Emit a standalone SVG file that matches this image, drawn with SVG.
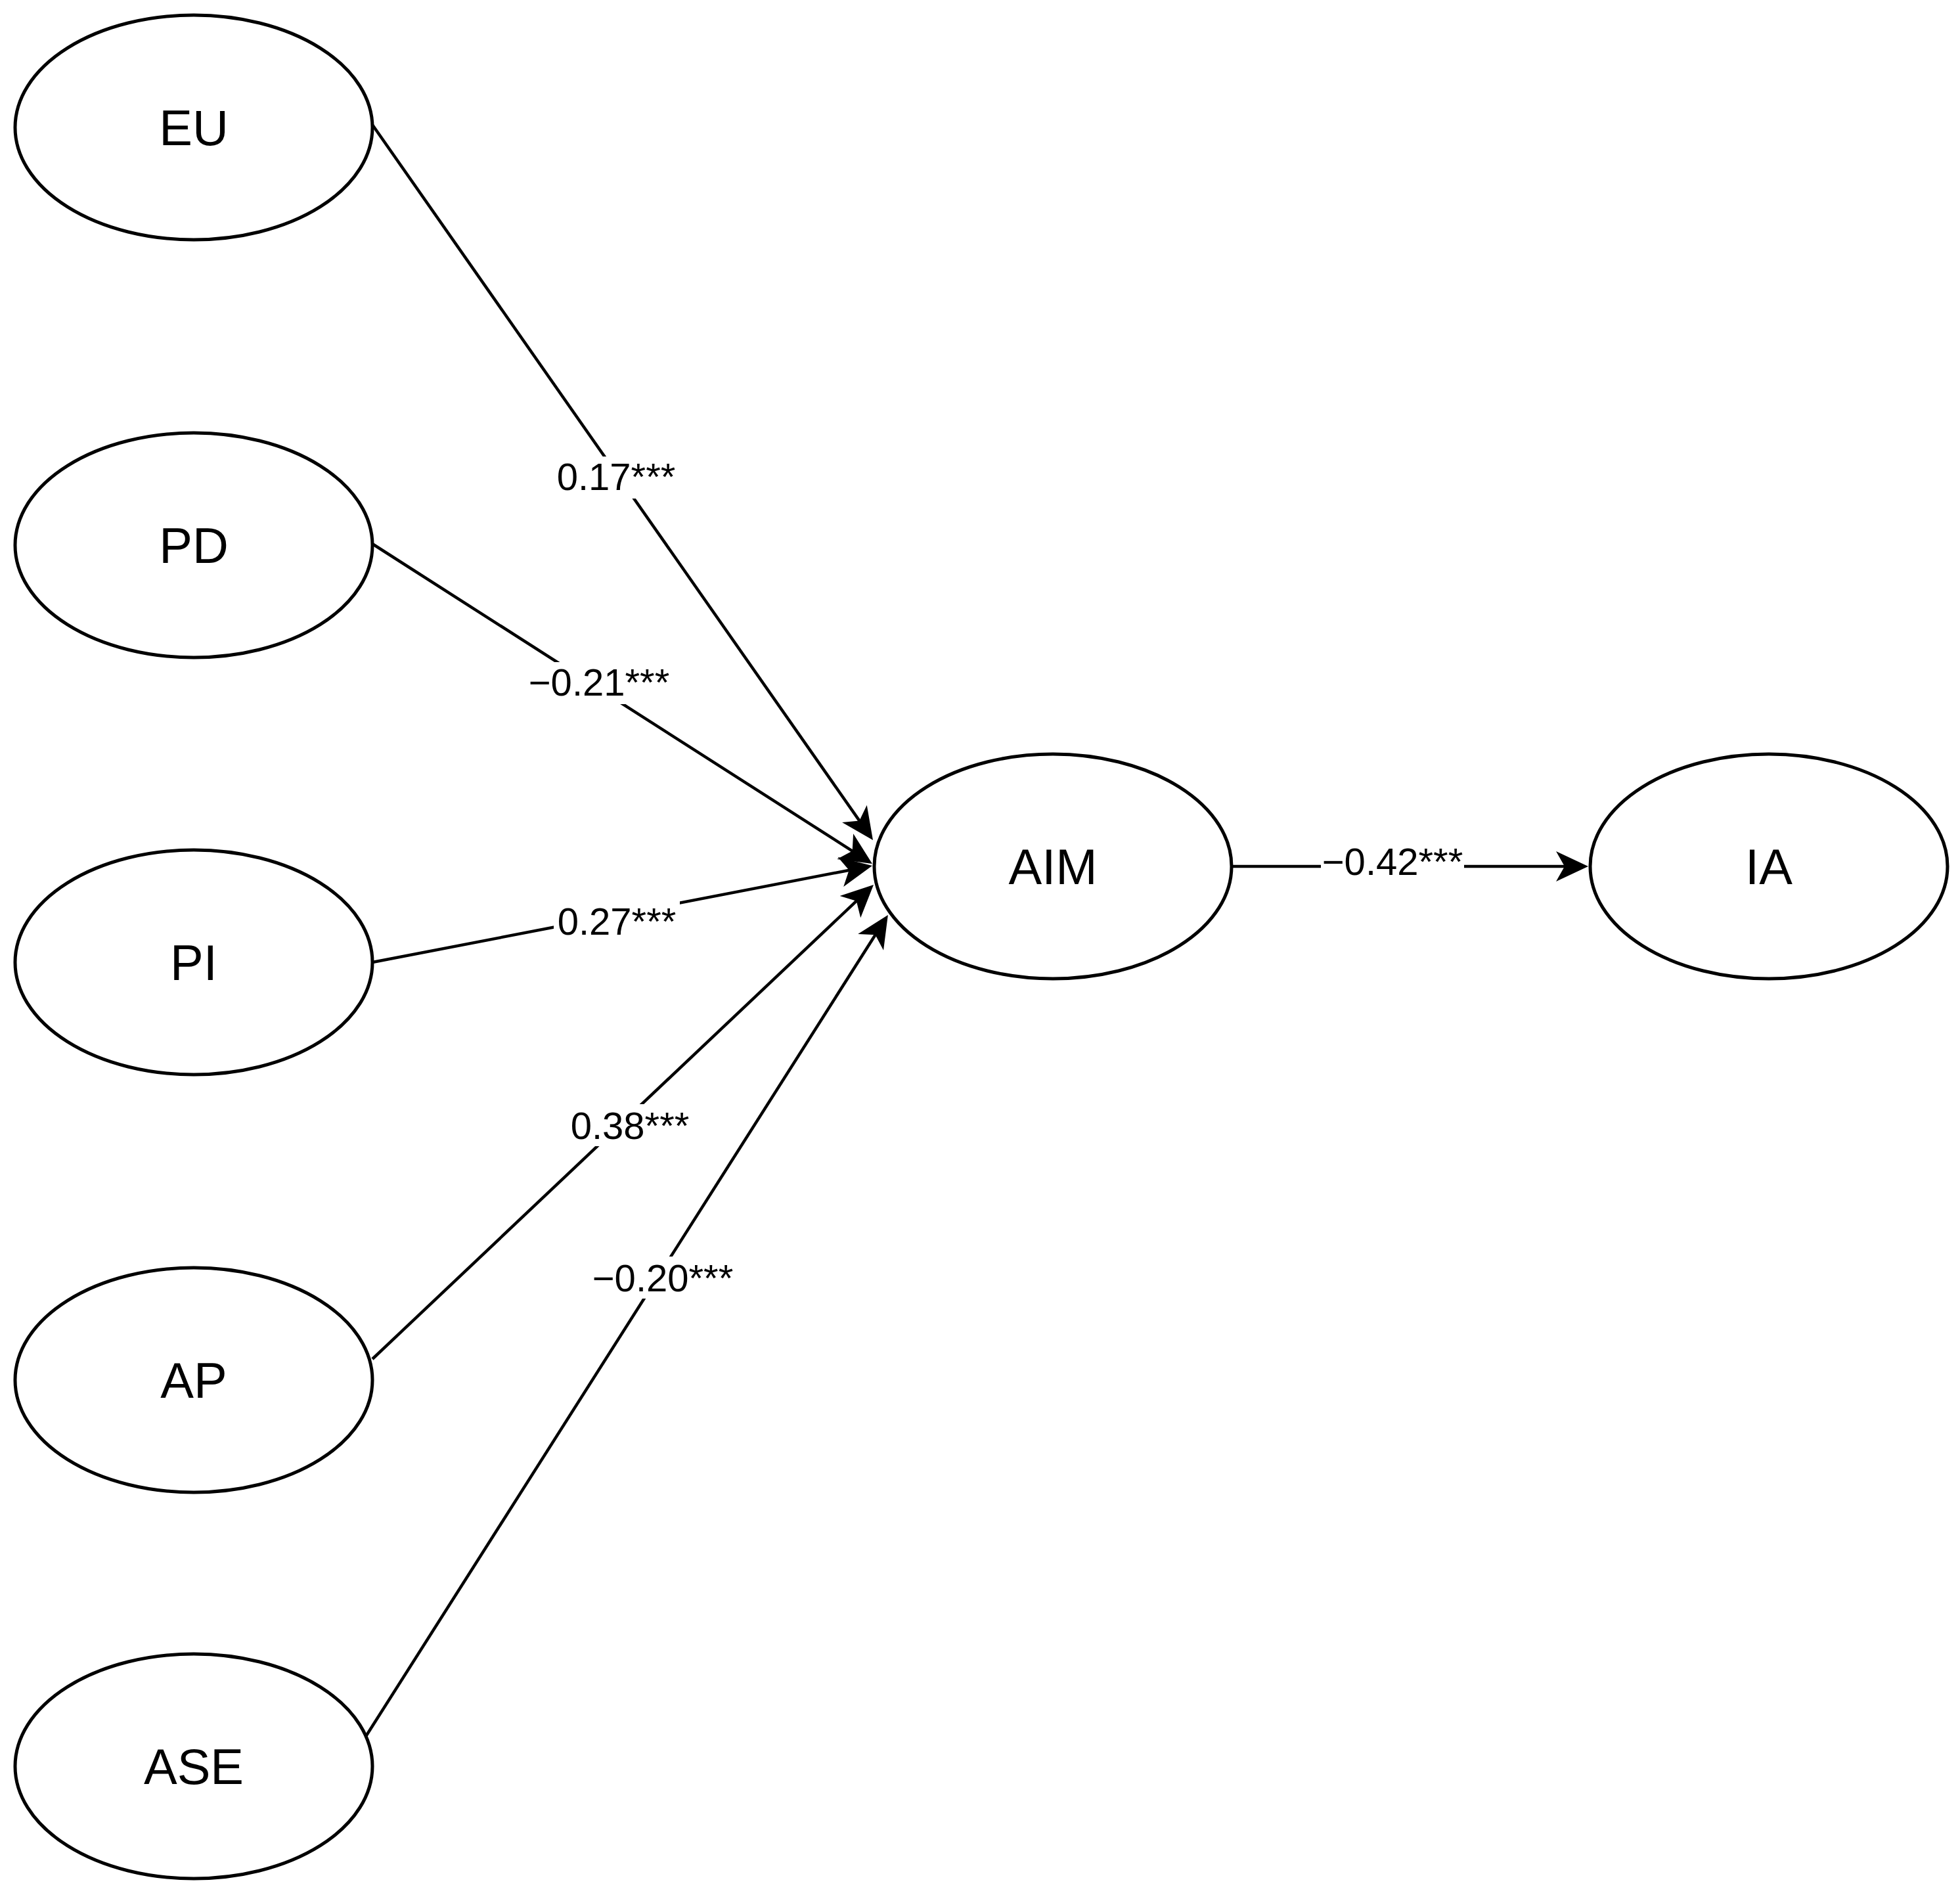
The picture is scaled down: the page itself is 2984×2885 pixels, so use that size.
<svg xmlns="http://www.w3.org/2000/svg" width="2984" height="2885" viewBox="0 0 2984 2885">
<style>
.node ellipse{fill:#fff;stroke:#000;stroke-width:5}
.node text{font-family:"Liberation Sans",Arial,sans-serif;font-size:76px;fill:#000;text-anchor:middle}
.edge line{stroke:#000;stroke-width:4.5;marker-end:url(#arr)}
.lbl rect{fill:#fff}
.lbl text{font-family:"Liberation Sans",Arial,sans-serif;font-size:58px;fill:#000;text-anchor:middle}
</style>
<defs>
<marker id="arr" markerUnits="userSpaceOnUse" viewBox="-22 -26 56 52" markerWidth="56" markerHeight="52" refX="0" refY="0" orient="auto">
<path d="M30,0 L-19,-23 L-6,0 L-19,23 Z" fill="#000"/>
</marker>
</defs>
<rect width="2984" height="2885" fill="#fff"/>
<g id="connectors" class="edge">
<line x1="567" y1="190" x2="1311.8" y2="1254.4"/>
<line x1="567" y1="828" x2="1302.7" y2="1298.8"/>
<line x1="567" y1="1465" x2="1298.5" y2="1323.7"/>
<line x1="567" y1="2069" x2="1308.2" y2="1367.6"/>
<line x1="556" y1="2645" x2="1335.8" y2="1418.3"/>
<line x1="1875" y1="1319" x2="2388" y2="1319"/>
</g>
<g id="edge-labels" class="lbl">
<rect x="845" y="695" width="186" height="64"/><text x="938" y="746">0.17***</text>
<rect x="803" y="1008" width="218" height="64"/><text x="912" y="1059">−0.21***</text>
<rect x="843" y="1372" width="192" height="64"/><text x="939" y="1423">0.27***</text>
<rect x="866" y="1681" width="186" height="64"/><text x="959" y="1734">0.38***</text>
<rect x="900" y="1913" width="218" height="64"/><text x="1009" y="1966">−0.20***</text>
<rect x="2011" y="1287" width="218" height="64"/><text x="2120" y="1332">−0.42***</text>
</g>
<g id="node-EU" class="node"><ellipse cx="295" cy="194" rx="272" ry="171"/><text x="295" y="221">EU</text></g>
<g id="node-PD" class="node"><ellipse cx="295" cy="830" rx="272" ry="171"/><text x="295" y="857">PD</text></g>
<g id="node-PI" class="node"><ellipse cx="295" cy="1465" rx="272" ry="171"/><text x="295" y="1492">PI</text></g>
<g id="node-AP" class="node"><ellipse cx="295" cy="2101" rx="272" ry="171"/><text x="295" y="2128">AP</text></g>
<g id="node-ASE" class="node"><ellipse cx="295" cy="2689" rx="272" ry="171"/><text x="295" y="2716">ASE</text></g>
<g id="node-AIM" class="node"><ellipse cx="1603" cy="1319" rx="272" ry="171"/><text x="1603" y="1346">AIM</text></g>
<g id="node-IA" class="node"><ellipse cx="2693" cy="1319" rx="272" ry="171"/><text x="2693" y="1346">IA</text></g>
</svg>
